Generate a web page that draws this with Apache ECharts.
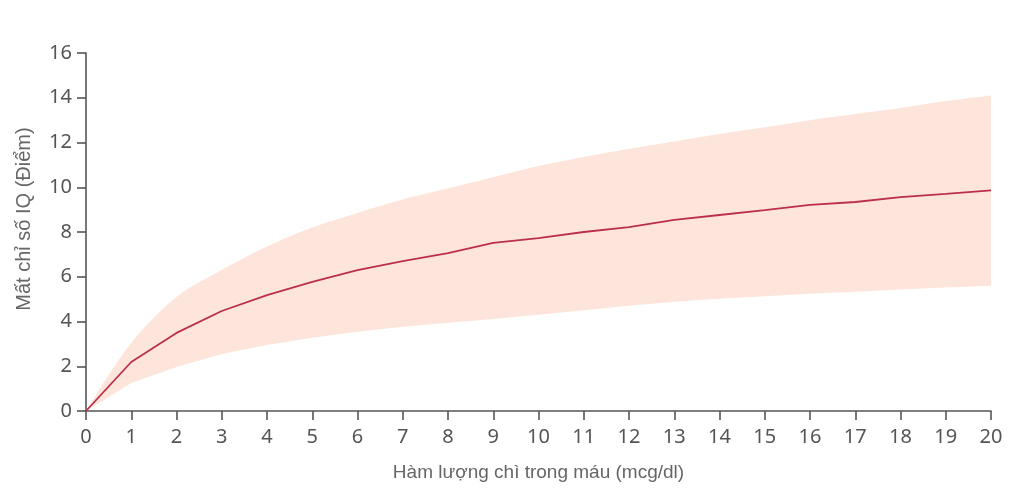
<!DOCTYPE html>
<html>
<head>
<meta charset="utf-8">
<script src="https://cdn.jsdelivr.net/npm/echarts@6/dist/echarts.min.js"></script>
<style>html,body{margin:0;padding:0;background:#fff;}#c{width:1024px;height:502px;}</style>
</head>
<body>
<div id="c"></div>
<script>
const categories = ['0','1','2','3','4','5','6','7','8','9','10','11','12','13','14','15','16','17','18','19','20'];
const meanIQLoss = [0, 2.19, 3.49, 4.47, 5.18, 5.77, 6.30, 6.70, 7.06, 7.51, 7.73, 8.00, 8.22, 8.54, 8.76, 8.98, 9.21, 9.34, 9.56, 9.70, 9.86];
const lowerBound = [0, 1.25, 1.97, 2.55, 2.95, 3.27, 3.54, 3.76, 3.94, 4.11, 4.3, 4.5, 4.7, 4.88, 5.02, 5.13, 5.24, 5.33, 5.43, 5.52, 5.6];
const upperBound = [0, 3.05, 5.1, 6.3, 7.35, 8.2, 8.85, 9.45, 9.95, 10.45, 10.95, 11.35, 11.72, 12.05, 12.38, 12.68, 13.0, 13.27, 13.54, 13.85, 14.1];
const yTicks = [0, 2, 4, 6, 8, 10, 12, 14, 16];

const bandWidth = upperBound.map((u, i) => +(u - lowerBound[i]).toFixed(3));
const tickFont = '"Noto Sans", sans-serif';
const titleFont = '"Liberation Sans", Arial, sans-serif';

const chart = echarts.init(document.getElementById('c'), null, {renderer: 'canvas'});
chart.setOption({
  animation: false,
  backgroundColor: '#fff',
  grid: {left: 86, right: 33, top: 53, bottom: 91, containLabel: false},
  xAxis: {
    type: 'category',
    data: categories,
    boundaryGap: false,
    name: 'Hàm lượng chì trong máu (mcg/dl)',
    nameLocation: 'middle',
    nameGap: 52,
    nameTextStyle: {color: '#666', fontSize: 19, fontFamily: titleFont},
    axisLine: {lineStyle: {color: '#555', width: 1.6}},
    axisTick: {show: true, alignWithLabel: true, length: 9, lineStyle: {color: '#555', width: 1.6}},
    axisLabel: {color: '#555', fontSize: 20, fontFamily: tickFont, margin: 16, interval: 0},
    splitLine: {show: false}
  },
  yAxis: {
    type: 'value',
    min: yTicks[0],
    max: yTicks[yTicks.length - 1],
    interval: 2,
    name: 'Mất chỉ số IQ (Điểm)',
    nameLocation: 'middle',
    nameGap: 52,
    nameTextStyle: {color: '#666', fontSize: 20, fontFamily: titleFont, padding: [0, 0, 0, 26]},
    axisLine: {show: true, lineStyle: {color: '#555', width: 1.6}},
    axisTick: {show: true, length: 9, lineStyle: {color: '#555', width: 1.6}},
    axisLabel: {color: '#555', fontSize: 20, fontFamily: tickFont, margin: 14},
    splitLine: {show: false}
  },
  series: [
    {
      type: 'line', name: 'lower', data: lowerBound, stack: 'band',
      symbol: 'none', lineStyle: {opacity: 0}, areaStyle: {opacity: 0}, silent: true
    },
    {
      type: 'line', name: 'band', data: bandWidth, stack: 'band',
      symbol: 'none', lineStyle: {opacity: 0}, smooth: 0.3,
      areaStyle: {color: '#fde5dc', opacity: 1}, silent: true
    },
    {
      type: 'line', name: 'mean', data: meanIQLoss,
      symbol: 'none', lineStyle: {color: '#bb2f4c', width: 1.8}, z: 5
    }
  ]
});
</script>
</body>
</html>
